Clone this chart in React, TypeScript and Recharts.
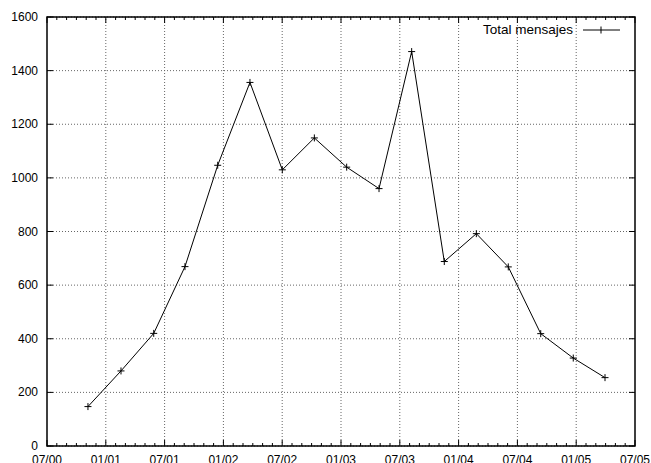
import { LineChart, Line, XAxis, YAxis, CartesianGrid, ReferenceLine, ReferenceArea, Legend } from "recharts";

// months since 07/2000 for each sample
const meses = [4.18, 7.55, 10.89, 14.08, 17.42, 20.71, 24.01, 27.28, 30.58, 33.88, 37.21, 40.54, 43.81, 47.07, 50.38, 53.7, 56.94];
const totalMensajes = [147, 280, 420, 669, 1047, 1356, 1030, 1149, 1040, 960, 1471, 688, 792, 668, 419, 328, 255];

const xTicks = [0, 6, 12, 18, 24, 30, 36, 42, 48, 54, 60];
const xLabels = ["07/00", "01/01", "07/01", "01/02", "07/02", "01/03", "07/03", "01/04", "07/04", "01/05", "07/05"];
const yTicks = [0, 200, 400, 600, 800, 1000, 1200, 1400, 1600];

const data = meses.map((m, i) => ({ mes: m, total: totalMensajes[i] }));
const monthTicks = Array.from({ length: 61 }, (_, i) => i);

const W = 651;
const H = 463;
const PLOT_W = 588;
const PLOT_H = 429;
const FONT = "'Liberation Sans', Arial, sans-serif";

const XTick = (props: any) => {
  const { x, y, payload } = props;
  const v = payload.value;
  const major = v % 6 === 0;
  const len = major ? 6 : 3;
  const idx = xTicks.indexOf(v);
  return (
    <g>
      <line x1={x} x2={x} y1={y} y2={y - len} stroke="#000" />
      <line x1={x} x2={x} y1={y - PLOT_H} y2={y - PLOT_H + len} stroke="#000" />
      {major && (
        <text x={x} y={y + 18} textAnchor="middle" fontSize={12} fontFamily={FONT} fill="#000">
          {xLabels[idx]}
        </text>
      )}
    </g>
  );
};

const YTick = (props: any) => {
  const { x, y, payload } = props;
  return (
    <g>
      <line x1={x} x2={x + 6} y1={y} y2={y} stroke="#000" />
      <line x1={x + PLOT_W} x2={x + PLOT_W - 6} y1={y} y2={y} stroke="#000" />
      <text x={x - 9} y={y + 4} textAnchor="end" fontSize={12} fontFamily={FONT} fill="#000">
        {payload.value}
      </text>
    </g>
  );
};

const PlusDot = (props: any) => {
  const { cx, cy } = props;
  if (cx == null || cy == null) return null;
  return <path d={`M${cx - 3.5},${cy}h7M${cx},${cy - 3.5}v7`} stroke="#000" strokeWidth={1} fill="none" />;
};

const KeyBox = () => (
  <div style={{ display: "flex", alignItems: "center", fontFamily: FONT, fontSize: 13.5, lineHeight: "16px" }}>
    <span>Total mensajes</span>
    <svg width={47} height={16} style={{ display: "block" }}>
      <line x1={10} x2={47} y1={8} y2={8} stroke="#000" />
      <path d="M28,4.5v7" stroke="#000" />
    </svg>
  </div>
);

export default function App() {
  return (
    <div style={{ position: "absolute", left: 0, top: 0, background: "#fff" }}>
      <LineChart width={W} height={H} data={data} margin={{ top: 17, right: 16, left: 0, bottom: 0 }}>
        <CartesianGrid vertical={false} stroke="#666" strokeDasharray="1 2" />
        {xTicks.slice(1, -1).map((t) => (
          <ReferenceLine key={t} x={t} stroke="#666" strokeDasharray="1 2" />
        ))}
        <XAxis
          dataKey="mes"
          type="number"
          domain={[0, 60]}
          ticks={monthTicks}
          interval={0}
          tick={<XTick />}
          tickLine={false}
          tickSize={0}
          tickMargin={0}
          axisLine={false}
          height={17}
        />
        <YAxis
          type="number"
          domain={[0, 1600]}
          ticks={yTicks}
          interval={0}
          tick={<YTick />}
          tickLine={false}
          tickSize={0}
          tickMargin={0}
          axisLine={false}
          width={47}
        />
        <ReferenceArea x1={0} x2={60} y1={0} y2={1600} fill="none" stroke="#000" strokeWidth={1.5} ifOverflow="visible" />
        <Legend
          layout="horizontal"
          verticalAlign="middle"
          align="center"
          content={<KeyBox />}
          wrapperStyle={{ top: 22, right: 31, left: "auto", width: "auto" }}
        />
        <Line
          type="linear"
          dataKey="total"
          stroke="#000"
          strokeWidth={1}
          dot={<PlusDot />}
          activeDot={false}
          isAnimationActive={false}
          legendType="none"
        />
      </LineChart>
    </div>
  );
}
